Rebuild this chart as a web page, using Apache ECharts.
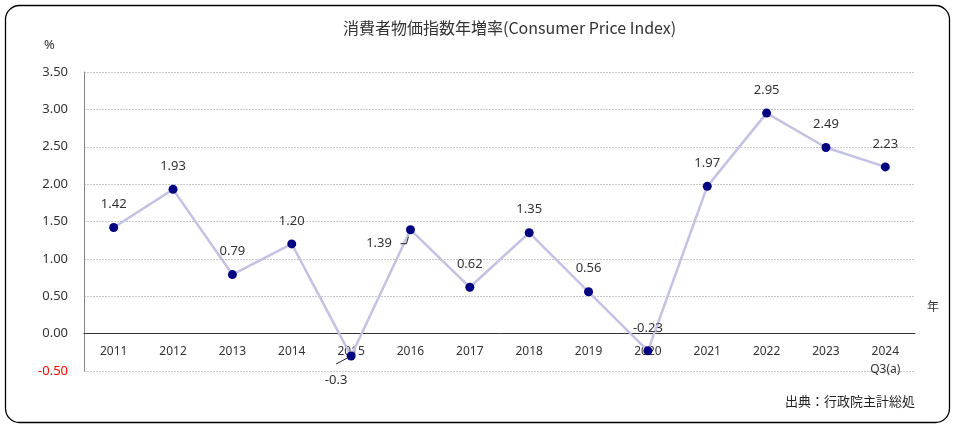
<!DOCTYPE html>
<html><head><meta charset="utf-8">
<script src="https://cdn.jsdelivr.net/npm/echarts@6/dist/echarts.min.js"></script>
<style>html,body{margin:0;padding:0;background:#fff}#c{width:955px;height:428px}</style>
</head><body><div id="c"></div>
<script>
var years = ['2011','2012','2013','2014','2015','2016','2017','2018','2019','2020','2021','2022','2023','2024'];
var values = [1.42, 1.93, 0.79, 1.20, -0.3, 1.39, 0.62, 1.35, 0.56, -0.23, 1.97, 2.95, 2.49, 2.23];
var valueLabels = ['1.42','1.93','0.79','1.20','-0.3','1.39','0.62','1.35','0.56','-0.23','1.97','2.95','2.49','2.23'];
var lastNote = 'Q3(a)';
var titleText = '消費者物価指数年増率(Consumer Price Index)';
var sourceText = '出典：行政院主計総処';

var FONT = '"Noto Sans", "Noto Sans CJK JP", sans-serif';
var CJK = '"Noto Sans CJK JP", sans-serif';
var chart = echarts.init(document.getElementById('c'), null, {renderer:'canvas'});

var data = values.map(function(v, i){
  var d = {value: v};
  if (i === 4) d.label = {position: 'bottom', offset: [-15, 1]};
  if (i === 5) d.label = {position: 'left', offset: [-2, 14]};
  return d;
});

var Y_MIN = -0.5;

function baseOption(offset){
  return {
    animation: false,
    textStyle: {fontFamily: FONT},
    grid: {left: 84, right: 40, top: 72, bottom: 57},
    xAxis: [{
      type: 'category', data: years, boundaryGap: true,
      axisLine: {onZero: true, lineStyle: {color: '#333', width: 1}},
      axisTick: {show: false}, axisLabel: {show: false}, splitLine: {show: false}
    }, {
      type: 'category', data: years, boundaryGap: true, position: 'bottom',
      offset: offset,
      axisLine: {show: false, onZero: false},
      axisTick: {show: false},
      axisLabel: {
        color: '#333', fontSize: 12, margin: 12, interval: 0, fontFamily: FONT,
        formatter: function(v, i){ return i === years.length - 1 ? v + '\n{n|' + lastNote + '}' : v; },
        rich: {n: {fontSize: 12, color: '#333', lineHeight: 24}}
      },
      splitLine: {show: false}
    }],
    yAxis: {
      type: 'value', min: Y_MIN, max: 3.5, interval: 0.5,
      axisLine: {show: true, lineStyle: {color: '#888'}},
      axisTick: {show: false},
      axisLabel: {
        fontSize: 13, margin: 16, fontFamily: FONT,
        formatter: function(v){ return v.toFixed(2); },
        color: function(v){ return Number(v) < 0 ? '#ff0000' : '#333'; }
      },
      splitLine: {show: true, lineStyle: {color: '#c8c8c8', type: [2,1], width: 1}}
    },
    series: [{
      type: 'line', data: data, xAxisIndex: 0,
      symbol: 'circle', symbolSize: 9,
      itemStyle: {color: '#000080'},
      lineStyle: {color: '#c4c2e2', width: 2.5},
      label: {
        show: true, position: 'top', distance: 12, color: '#333', fontSize: 13, fontFamily: FONT,
        formatter: function(p){ return valueLabels[p.dataIndex]; }
      },
      z: 5
    }]
  };
}

chart.setOption(baseOption(0));
// move the label axis up to the zero line, using the chart's own scale
var yZero = chart.convertToPixel({yAxisIndex: 0}, 0);
var yBottom = chart.convertToPixel({yAxisIndex: 0}, Y_MIN);
var opt = baseOption(-(yBottom - yZero));
var p4 = chart.convertToPixel({seriesIndex: 0}, [4, values[4]]);
var p5 = chart.convertToPixel({seriesIndex: 0}, [5, values[5]]);
opt.graphic = [
  {type: 'rect', shape: {x: 5.5, y: 5.5, width: 944, height: 417, r: 14}, style: {fill: 'none', stroke: '#000', lineWidth: 1.3}, z: 100},
  {type: 'text', left: 343, top: 20, style: {text: titleText, fill: '#333', font: '16px ' + CJK}},
  {type: 'text', left: 44, top: 39, style: {text: '%', fill: '#333', font: '13px ' + FONT}},
  {type: 'text', left: 927, top: 300, style: {text: '年', fill: '#333', font: '12px ' + CJK}},
  {type: 'text', right: 40, top: 395, style: {text: sourceText, fill: '#222', font: '13px ' + CJK}},
  {type: 'polyline', shape: {points: [[p4[0]-15, p4[1]+8], [p4[0]-2, p4[1]+1]]}, style: {stroke: '#222', lineWidth: 1}, z: 50},
  {type: 'polyline', shape: {points: [[p5[0]-10, p5[1]+14], [p5[0]-4, p5[1]+14], [p5[0]-2, p5[1]+7]]}, style: {stroke: '#222', lineWidth: 1, fill: 'none'}, z: 50}
];
chart.setOption(opt, true);
</script></body></html>
